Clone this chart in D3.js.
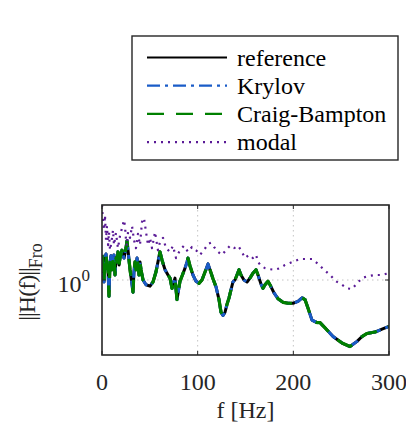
<!DOCTYPE html>
<html>
<head>
<meta charset="utf-8">
<script src="https://cdn.jsdelivr.net/npm/d3@7/dist/d3.min.js"></script>
<style>
  body { margin: 0; background: #fff; }
  svg { display: block; }
</style>
</head>
<body>
<div id="root"></div>
<script>
// --- data ---
const freqRef = [0, 1.0, 2.1, 3.1, 4.2, 5.2, 6.3, 7.3, 8.4, 9.4, 10.5, 11.5, 12.5, 13.6, 14.6, 15.7, 16.7, 17.8, 18.8,
  20.9, 23.0, 25.1, 26.1, 27.2, 29.3, 31.4, 32.4, 33.4, 34.5, 35.5, 36.6, 37.6, 38.7, 39.7, 40.8, 42.9, 46.0,
  50.2, 53.3, 56.4, 58.5, 60.6, 62.7, 65.9, 69.0, 71.1, 73.2, 74.2, 76.3, 78.4, 79.4, 81.5, 83.6, 86.8, 88.9,
  89.9, 92.0, 95.1, 98.3, 101.4, 104.5, 107.7, 110.8, 112.9, 116.0, 119.2, 122.3, 124.4, 126.5, 128.6, 130.7,
  132.8, 134.8, 136.9, 139.0, 141.1, 143.2, 145.3, 148.4, 151.6, 154.7, 157.8, 161.0, 163.1, 166.2, 168.3,
  170.4, 173.5, 175.6, 179.8, 184.0, 189.2, 194.4, 199.7, 204.9, 209.1, 212.2, 215.3, 219.5, 224.7, 227.9,
  233.1, 241.5, 250.9, 259.2, 266.6, 271.8, 277.0, 285.4, 292.7, 300];
const magRef = [1.47, 1.32, 0.97, 1.40, 1.49, 1.20, 1.17, 0.78, 1.32, 1.45, 1.17, 1.32, 1.47, 1.08, 1.40, 1.32, 1.54, 1.26, 1.40,
  1.58, 1.40, 1.63, 1.82, 1.58, 1.17, 0.93, 0.83, 1.13, 1.32, 1.17, 1.40, 1.26, 1.08, 1.32, 1.17, 1.00, 0.93,
  0.91, 0.97, 1.13, 1.32, 1.54, 1.36, 1.17, 1.08, 1.03, 0.88, 0.93, 1.03, 0.74, 0.81, 0.98, 1.06, 1.20, 1.32,
  1.40, 1.24, 1.08, 0.98, 0.95, 1.00, 1.13, 1.28, 1.17, 1.02, 0.90, 0.74, 0.61, 0.58, 0.61, 0.69,
  0.76, 0.86, 0.97, 1.00, 1.08, 1.17, 1.08, 1.00, 0.97, 1.03, 1.11, 1.17, 1.08, 0.94, 0.88,
  0.93, 0.98, 0.93, 0.82, 0.75, 0.71, 0.70, 0.70, 0.72, 0.76, 0.74, 0.65, 0.54, 0.52, 0.52,
  0.48, 0.42, 0.38, 0.36, 0.39, 0.42, 0.44, 0.45, 0.47, 0.49];
// Krylov and Craig-Bampton lie on top of the reference curve
const magKrylov = magRef.slice();
const magCraig = magRef.slice();

const freqModal = [0, 1.0, 2.1, 3.1, 4.2, 5.2, 6.3, 7.3, 8.4, 10.5, 11.5, 12.5, 14.6, 16.7, 18.8, 20.9, 23.0, 24.0,
  25.1, 26.1, 27.2, 29.3, 31.4, 33.4, 35.5, 37.6, 39.7, 41.8, 43.9, 46.0, 48.1, 50.2, 52.3, 55.4, 58.5, 60.6,
  63.8, 66.9, 71.1, 74.2, 77.4, 81.5, 85.7, 89.9, 94.1, 98.3, 102.4, 106.6, 110.8, 113.9, 117.1, 121.3, 125.4,
  129.6, 133.8, 138.0, 142.2, 145.3, 149.5, 153.7, 157.8, 161.0, 163.1, 166.2, 170.4, 175.6, 180.8, 186.1,
  191.3, 196.5, 201.7, 207.0, 213.2, 219.5, 225.8, 232.1, 238.3, 244.6, 250.9, 256.1, 261.3, 266.6, 271.8,
  278.0, 285.4, 291.6, 300];
const magModal = [3.16, 2.44, 2.15, 2.71, 1.85, 2.29, 1.71, 2.09, 1.58, 1.91, 2.15, 1.71, 2.06, 1.63, 1.97, 2.22, 2.51, 2.29,
  1.85, 1.69, 2.09, 1.91, 2.29, 1.85, 1.63, 2.03, 1.71, 2.44, 2.59, 2.09, 1.71, 1.91, 1.63, 2.09, 1.58, 1.79,
  1.91, 1.63, 1.54, 1.69, 1.40, 1.58, 1.69, 1.54, 1.66, 1.58, 1.47, 1.58, 1.74, 1.77, 1.66, 1.54, 1.47,
  1.58, 1.69, 1.63, 1.69, 1.58, 1.40, 1.47, 1.40, 1.47, 1.32, 1.24, 1.20, 1.18, 1.17, 1.20,
  1.26, 1.30, 1.34, 1.38, 1.38, 1.38, 1.28, 1.17, 1.08, 0.98, 0.93, 0.88, 0.87, 0.95, 1.03,
  1.06, 1.08, 1.08, 1.11];

const xTicks = [0, 100, 200, 300];
const yTicks = [1];
const legendLabels = ["reference", "Krylov", "Craig-Bampton", "modal"];

// --- layout ---
const W = 406, H = 425;
const plot = { left: 102, right: 389, top: 205, bottom: 355 };
const axisColor = "#262626";
const font = "'Liberation Serif', 'Times New Roman', serif";

const series = [
  { label: legendLabels[0], freq: freqRef, mag: magRef, color: "#000000", dash: null, width: 3 },
  { label: legendLabels[1], freq: freqRef, mag: magKrylov, color: "#1a5cc8", dash: "13,5,3,5", width: 3 },
  { label: legendLabels[2], freq: freqRef, mag: magCraig, color: "#008000", dash: "17,12", width: 3.2 },
  { label: legendLabels[3], freq: freqModal, mag: magModal, color: "#5a1a96", dash: "2,5", width: 2.2 }
];

const svg = d3.select("#root").append("svg")
  .attr("width", W)
  .attr("height", H)
  .attr("xmlns", "http://www.w3.org/2000/svg");

const x = d3.scaleLinear().domain([0, 300]).range([plot.left, plot.right]);
const y = d3.scaleLog().domain([Math.pow(10, -0.5), Math.pow(10, 0.5)]).range([plot.bottom, plot.top]);

svg.append("defs").append("clipPath").attr("id", "clip")
  .append("rect")
  .attr("x", plot.left).attr("y", plot.top)
  .attr("width", plot.right - plot.left).attr("height", plot.bottom - plot.top);

// grid (dotted)
const grid = svg.append("g").attr("stroke", "#c4c4c4").attr("stroke-width", 1).attr("stroke-dasharray", "1.5,3.5");
grid.selectAll(".gx").data(xTicks.slice(1, -1)).join("line")
  .attr("x1", d => x(d)).attr("x2", d => x(d))
  .attr("y1", plot.top).attr("y2", plot.bottom);
grid.selectAll(".gy").data(yTicks).join("line")
  .attr("x1", plot.left).attr("x2", plot.right)
  .attr("y1", d => y(d)).attr("y2", d => y(d));

// curves
const lines = svg.append("g").attr("clip-path", "url(#clip)");
series.forEach(s => {
  const pts = s.freq.map((f, i) => [f, s.mag[i]]);
  lines.append("path")
    .attr("d", d3.line().x(d => x(d[0])).y(d => y(d[1]))(pts))
    .attr("fill", "none")
    .attr("stroke", s.color)
    .attr("stroke-width", s.width)
    .attr("stroke-linejoin", "round")
    .attr("stroke-dasharray", s.dash);
});

// axes: ticks inside, on all four sides
const tickLen = 4;
const ax = svg.append("g").attr("stroke", axisColor).attr("stroke-width", 1);
xTicks.forEach(t => {
  ax.append("line").attr("x1", x(t)).attr("x2", x(t)).attr("y1", plot.bottom).attr("y2", plot.bottom - tickLen);
  ax.append("line").attr("x1", x(t)).attr("x2", x(t)).attr("y1", plot.top).attr("y2", plot.top + tickLen);
});
yTicks.forEach(t => {
  ax.append("line").attr("x1", plot.left).attr("x2", plot.left + tickLen).attr("y1", y(t)).attr("y2", y(t));
  ax.append("line").attr("x1", plot.right).attr("x2", plot.right - tickLen).attr("y1", y(t)).attr("y2", y(t));
});
svg.append("rect")
  .attr("x", plot.left).attr("y", plot.top)
  .attr("width", plot.right - plot.left).attr("height", plot.bottom - plot.top)
  .attr("fill", "none").attr("stroke", axisColor).attr("stroke-width", 1.6);

// tick labels
svg.append("g").selectAll("text").data(xTicks).join("text")
  .attr("x", d => x(d)).attr("y", 390)
  .attr("text-anchor", "middle")
  .attr("font-family", font).attr("font-size", 24).attr("fill", axisColor)
  .text(d => d);

const yl = svg.append("g").selectAll("text").data(yTicks).join("text")
  .attr("x", 90).attr("y", d => y(d) + 12)
  .attr("text-anchor", "end")
  .attr("font-family", font).attr("font-size", 24).attr("fill", axisColor);
yl.append("tspan").text(d => 10);
yl.append("tspan").attr("font-size", 17).attr("dy", -11).text(d => Math.round(Math.log10(d)));

// axis labels
svg.append("text")
  .attr("x", (plot.left + plot.right) / 2).attr("y", 418)
  .attr("text-anchor", "middle")
  .attr("font-family", font).attr("font-size", 24).attr("fill", axisColor)
  .text("f [Hz]");

const ylab = svg.append("text")
  .attr("transform", "translate(35,282) rotate(-90)")
  .attr("text-anchor", "middle")
  .attr("font-family", font).attr("font-size", 24).attr("fill", axisColor);
ylab.append("tspan").attr("letter-spacing", -1).text("||H(f)||");
ylab.append("tspan").attr("font-size", 18).attr("dy", 7).text("Fro");

// legend
const leg = svg.append("g");
leg.append("rect")
  .attr("x", 132).attr("y", 36).attr("width", 266).attr("height", 124)
  .attr("fill", "#fff").attr("stroke", axisColor).attr("stroke-width", 1.4);
series.forEach((s, i) => {
  const ly = 57.5 + i * 28.2;
  leg.append("line")
    .attr("x1", 147).attr("x2", 227).attr("y1", ly).attr("y2", ly)
    .attr("stroke", s.color).attr("stroke-width", 2.2)
    .attr("stroke-dasharray", s.dash);
  leg.append("text")
    .attr("x", 237).attr("y", ly + 8)
    .attr("font-family", font).attr("font-size", 24).attr("fill", "#000")
    .text(s.label);
});
</script>
</body>
</html>
